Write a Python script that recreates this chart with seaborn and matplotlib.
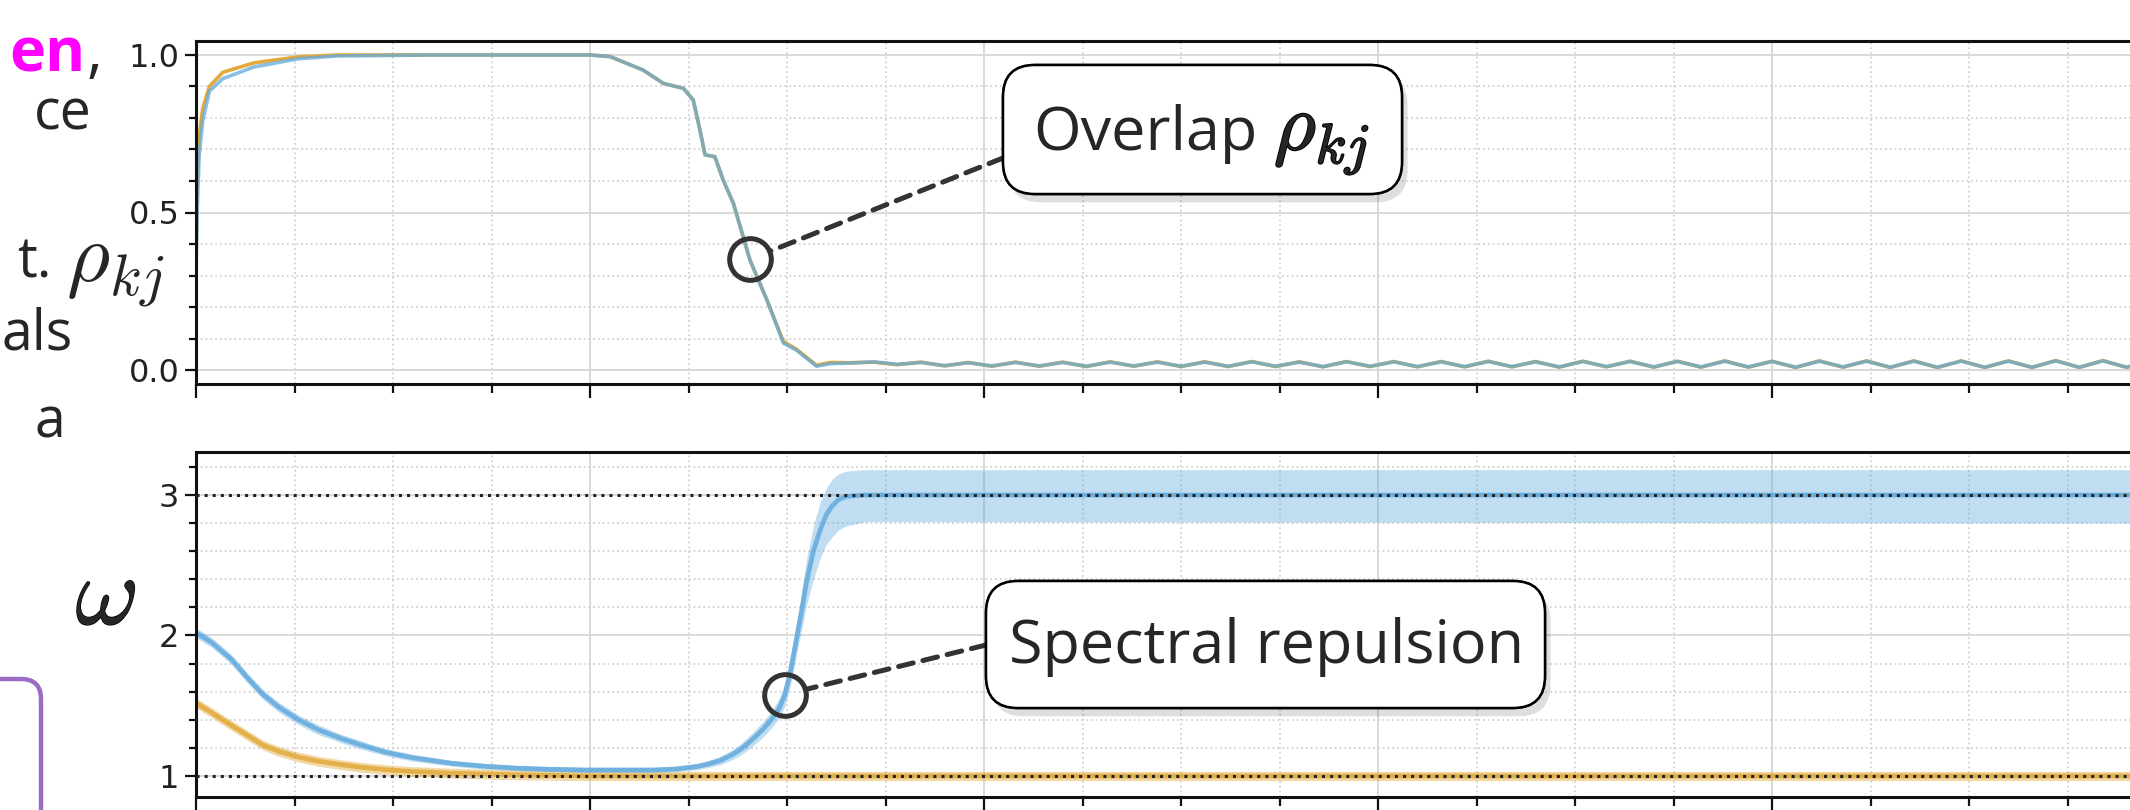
"""
Overlap rho_kj and frequencies omega over training time, two stacked panels
with annotation call-outs, cropped as on the slide.
"""

import matplotlib
matplotlib.use("Agg")
import matplotlib.pyplot as plt
import matplotlib.patheffects as pe
import seaborn as sns
import numpy as np
import pandas as pd
from matplotlib.patches import FancyBboxPatch
from matplotlib.transforms import IdentityTransform
from matplotlib.ticker import MultipleLocator, NullFormatter

# ---- data (time in major-tick units) ----
rho_head_t = [0.0, 0.003, 0.008, 0.017, 0.034, 0.068, 0.147, 0.26, 0.36, 0.6,
              1.0, 1.051, 1.135, 1.186, 1.237, 1.262, 1.279, 1.292, 1.317,
              1.338, 1.364, 1.406, 1.449, 1.491, 1.524, 1.575, 1.61]
rho_head_blue = [0.30, 0.50, 0.68, 0.79, 0.885, 0.925, 0.962, 0.988, 0.997,
                 1.0, 1.0, 0.995, 0.952, 0.91, 0.894, 0.857, 0.762, 0.683,
                 0.677, 0.603, 0.529, 0.349, 0.222, 0.085, 0.063, 0.012, 0.02]
rho_head_orange = [0.33, 0.58, 0.74, 0.83, 0.90, 0.945, 0.975, 0.994, 1.0,
                   1.0, 1.0, 0.995, 0.952, 0.91, 0.894, 0.857, 0.762, 0.683,
                   0.677, 0.603, 0.529, 0.349, 0.222, 0.09, 0.066, 0.015, 0.024]
rho_tail_blue = [0.022, 0.026, 0.018, 0.024, 0.014, 0.023, 0.013, 0.024,
                 0.013, 0.024, 0.012, 0.025, 0.013, 0.025, 0.012, 0.025,
                 0.012, 0.026, 0.012, 0.025, 0.011, 0.026, 0.012, 0.026,
                 0.011, 0.026, 0.011, 0.027, 0.011, 0.026, 0.010, 0.027,
                 0.011, 0.027, 0.010, 0.027, 0.010, 0.028, 0.010, 0.027,
                 0.009, 0.028, 0.010, 0.028, 0.009, 0.028, 0.009, 0.028,
                 0.009, 0.028, 0.009, 0.029, 0.009, 0.029, 0.009, 0.028]
rho_tail_orange = [0.023, 0.025, 0.017, 0.025, 0.013, 0.024, 0.012, 0.025,
                   0.012, 0.025, 0.011, 0.026, 0.012, 0.026, 0.011, 0.026,
                   0.011, 0.027, 0.011, 0.026, 0.010, 0.027, 0.011, 0.027,
                   0.010, 0.027, 0.010, 0.028, 0.010, 0.027, 0.009, 0.028,
                   0.010, 0.028, 0.009, 0.028, 0.009, 0.029, 0.009, 0.028,
                   0.008, 0.029, 0.009, 0.029, 0.008, 0.029, 0.008, 0.029,
                   0.008, 0.029, 0.008, 0.030, 0.008, 0.030, 0.008, 0.029]

om_blue_t = [0, 0.04, 0.09, 0.13, 0.17, 0.21, 0.26, 0.31, 0.37, 0.42,
             0.48, 0.55, 0.65, 0.73, 0.82, 0.9, 0.99, 1.16, 1.22, 1.27,
             1.30, 1.33, 1.36, 1.38, 1.40, 1.42, 1.44, 1.46, 1.48, 1.495,
             1.51, 1.525, 1.54, 1.55, 1.567, 1.584, 1.60, 1.614, 1.63, 1.65,
             1.70, 5.0]
om_blue = [2.02, 1.95, 1.83, 1.70, 1.58, 1.49, 1.40, 1.33, 1.265, 1.22,
           1.17, 1.13, 1.09, 1.07, 1.055, 1.048, 1.043, 1.043, 1.05, 1.066,
           1.085, 1.11, 1.15, 1.185, 1.23, 1.28, 1.335, 1.40, 1.48, 1.58,
           1.76, 1.99, 2.22, 2.39, 2.60, 2.75, 2.86, 2.92, 2.965, 2.99,
           3.0, 3.0]
om_blue_lo = [1.985, 1.915, 1.795, 1.665, 1.545, 1.455, 1.365, 1.295, 1.235, 1.19,
              1.145, 1.105, 1.07, 1.05, 1.037, 1.03, 1.025, 1.025, 1.03, 1.045,
              1.06, 1.08, 1.115, 1.145, 1.185, 1.23, 1.28, 1.34, 1.41, 1.50,
              1.66, 1.88, 2.08, 2.22, 2.40, 2.55, 2.65, 2.70, 2.75, 2.78,
              2.81, 2.80]
om_blue_hi = [2.055, 1.985, 1.865, 1.735, 1.615, 1.525, 1.435, 1.365, 1.295, 1.25,
              1.195, 1.155, 1.11, 1.09, 1.073, 1.066, 1.06, 1.06, 1.07, 1.09,
              1.11, 1.14, 1.185, 1.225, 1.275, 1.33, 1.39, 1.46, 1.55, 1.66,
              1.87, 2.10, 2.36, 2.55, 2.78, 2.95, 3.05, 3.11, 3.15, 3.17,
              3.18, 3.18]

om_orange_t = [0, 0.04, 0.09, 0.13, 0.17, 0.21, 0.26, 0.31, 0.37, 0.42,
               0.48, 0.55, 0.65, 0.73, 0.82, 1.0, 5.0]
om_orange = [1.52, 1.45, 1.36, 1.29, 1.22, 1.175, 1.135, 1.105, 1.08, 1.062,
             1.045, 1.032, 1.02, 1.014, 1.008, 1.0, 1.0]
om_orange_lo = [1.485, 1.415, 1.325, 1.255, 1.185, 1.14, 1.10, 1.07, 1.045, 1.027,
                1.01, 0.997, 0.985, 0.979, 0.973, 0.967, 0.967]
om_orange_hi = [1.555, 1.485, 1.395, 1.325, 1.255, 1.21, 1.17, 1.14, 1.115, 1.097,
                1.08, 1.067, 1.055, 1.049, 1.043, 1.033, 1.033]

omega_targets = [1, 3]
rho_marker = (1.407, 0.352)
omega_marker = (1.495, 1.58)

# cropped slide text: (text, x px, alignment, baseline px from bottom)
side_text = [("ce", 92, "right", 681), ("t.", 52, "right", 533),
             ("als", 2, "left", 460), ("a", 65, "right", 373)]

BLUE = "#62aadc"
ORANGE = "#e2aa3a"

sns.set_theme(style="white")
plt.rcParams["font.family"] = ["DejaVu Sans"]
plt.rcParams["mathtext.fontset"] = "cm"

W, H = 2130, 810
fig = plt.figure(figsize=(W / 100, H / 100), dpi=100)
fig.patch.set_facecolor("white")

ax_top = fig.add_axes([196 / W, (H - 384) / H, 1970 / W, 343 / H])
ax_bot = fig.add_axes([196 / W, (H - 797) / H, 1970 / W, 345 / H])

# ---- top panel: overlap ----
rho_tail_t = np.linspace(1.66, 4.96, len(rho_tail_blue))
rho_df = pd.DataFrame({
    "t": np.concatenate([rho_head_t, rho_tail_t]),
    "blue": rho_head_blue + rho_tail_blue,
    "orange": rho_head_orange + rho_tail_orange,
})
sns.lineplot(data=rho_df, x="t", y="orange", ax=ax_top, color=ORANGE, lw=2.6,
             estimator=None, sort=False)
sns.lineplot(data=rho_df, x="t", y="blue", ax=ax_top, color=BLUE, lw=2.6,
             alpha=0.75, estimator=None, sort=False)
ax_top.set_ylim(-0.0444, 1.0444)
ax_top.yaxis.set_major_locator(MultipleLocator(0.5))
ax_top.yaxis.set_minor_locator(MultipleLocator(0.1))

# ---- bottom panel: omega ----
ax_bot.fill_between(om_orange_t, om_orange_lo, om_orange_hi, color=ORANGE,
                    alpha=0.45, lw=0)
sns.lineplot(x=om_orange_t, y=om_orange, ax=ax_bot, color=ORANGE, lw=3.4,
             alpha=0.85, estimator=None)
ax_bot.fill_between(om_blue_t, om_blue_lo, om_blue_hi, color=BLUE,
                    alpha=0.4, lw=0)
sns.lineplot(x=om_blue_t, y=om_blue, ax=ax_bot, color=BLUE, lw=3.4,
             alpha=0.85, estimator=None)
for y in omega_targets:
    ax_bot.axhline(y, color="#222222", ls=":", lw=2.2, zorder=4)
ax_bot.set_ylim(0.8505, 3.306)
ax_bot.yaxis.set_major_locator(MultipleLocator(1))
ax_bot.yaxis.set_minor_locator(MultipleLocator(0.2))

for ax in (ax_top, ax_bot):
    ax.set_xlim(0, 5)
    ax.xaxis.set_major_locator(MultipleLocator(1))
    ax.xaxis.set_minor_locator(MultipleLocator(0.25))
    ax.xaxis.set_major_formatter(NullFormatter())
    ax.set_xlabel("")
    ax.set_ylabel("")
    ax.set_axisbelow(True)
    ax.grid(True, which="major", color="#d9d9d9", lw=1.4, ls="-")
    ax.grid(True, which="minor", color="#d2d2d2", lw=1.3, ls=":")
    ax.tick_params(which="both", direction="out", bottom=True, left=True,
                   color="#111111", width=1.6)
    ax.tick_params(axis="x", which="major", length=10)
    ax.tick_params(axis="x", which="minor", length=6.5)
    ax.tick_params(axis="y", which="major", length=8, labelsize=23,
                   labelcolor="#222222", pad=4)
    ax.tick_params(axis="y", which="minor", length=5)
    for side in ("left", "top", "bottom"):
        ax.spines[side].set_color("#111111")
        ax.spines[side].set_linewidth(2.2)
    ax.spines["right"].set_visible(False)

ax_top.set_yticks([0.0, 0.5, 1.0])
ax_top.set_yticklabels(["0.0", "0.5", "1.0"])
ax_bot.set_yticks([1, 2, 3])
ax_bot.set_yticklabels(["1", "2", "3"])

# ---- markers and connectors ----
for ax, (mx, my), target in ((ax_top, rho_marker, (1003, H - 158)),
                             (ax_bot, omega_marker, (986, H - 645))):
    ax.plot([mx], [my], marker="o", ms=30, mfc="none", mec="#333333",
            mew=3.6, zorder=6)
    ax.annotate("", xy=(mx, my), xycoords="data", xytext=target,
                textcoords="figure pixels",
                arrowprops=dict(arrowstyle="-", color="#333333", lw=3.6,
                                linestyle=(0, (3, 2)), shrinkA=0, shrinkB=15))

# ---- call-out boxes ----
def callout(x0, top, x1, bottom):
    box = FancyBboxPatch((x0, H - bottom), x1 - x0, bottom - top,
                         boxstyle="round,pad=0,rounding_size=32",
                         transform=IdentityTransform(), facecolor="white",
                         edgecolor="black", lw=1.8, zorder=7,
                         path_effects=[pe.withSimplePatchShadow(
                             offset=(4, -6), shadow_rgbFace="black", alpha=0.13),
                             pe.Normal()])
    fig.add_artist(box)

text_font = ["Open Sans", "DejaVu Sans"]
callout(1003, 65, 1402, 194)
fig.text(1033 / W, (H - 150) / H, "Overlap", fontsize=44, family=text_font,
         va="baseline", ha="left", zorder=8)
fig.text(1274 / W, (H - 150) / H, r"$\rho_{kj}$", fontsize=58, va="baseline",
         ha="left", zorder=8,
         path_effects=[pe.withStroke(linewidth=1.4, foreground="black")])

callout(986, 581, 1545, 708)
fig.text(1009 / W, (H - 663) / H, "Spectral repulsion", fontsize=44,
         family=text_font, va="baseline", ha="left", zorder=8)

# ---- axis symbols ----
fig.text(115 / W, (H - 268) / H, r"$\rho_{kj}$", fontsize=60, ha="center",
         va="center")
fig.text(106 / W, (H - 598) / H, r"$\omega$", fontsize=70, ha="center",
         va="center",
         path_effects=[pe.withStroke(linewidth=1.0, foreground="black")])

# ---- cropped slide text on the left ----
fig.text(86 / W, (H - 71) / H, "en", fontsize=44, family=text_font,
         color="#ff00ff", fontweight="bold", ha="right", va="baseline")
fig.text(102 / W, (H - 71) / H, ",", fontsize=44, family=text_font,
         ha="right", va="baseline")
for s, xp, align, yb in side_text:
    fig.text(xp / W, yb / H, s, fontsize=40, family=text_font, ha=align,
             va="baseline")
purple = FancyBboxPatch((-120, -60), 161, 191,
                        boxstyle="round,pad=0,rounding_size=20",
                        transform=IdentityTransform(), facecolor="none",
                        edgecolor="#9b6cc6", lw=3.2)
fig.add_artist(purple)

fig.savefig("out.png", dpi=100)
